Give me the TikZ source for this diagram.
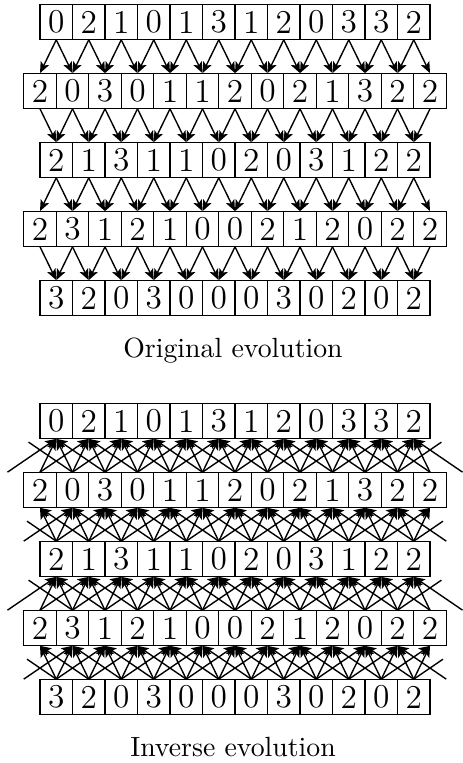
\documentclass[tikz,border=0pt]{standalone}
\usetikzlibrary{arrows.meta,calc}
\tikzset{
  cell/.style={draw=black, minimum width=11.7pt, minimum height=12.85pt, inner sep=0pt, outer sep=0pt, font=\large},
  arrow/.style={-{Stealth[length=4pt,width=3.3pt,inset=0.9pt]}, line width=0.5pt},
  plainline/.style={line width=0.5pt},
  caption/.style={anchor=base, font=\normalsize}
}
\begin{document}
\begin{tikzpicture}[x=0.36pt, y=-0.36pt]
\useasboundingbox (0,0) rectangle (462,763);

% the same five rows, once for each evolution
\foreach \b/\dy in {o/0, i/399} {
  \foreach \r/\x/\vals in {0/56.25/{0,2,1,0,1,3,1,2,0,3,3,2},
                           1/40/{2,0,3,0,1,1,2,0,2,1,3,2,2},
                           2/56.25/{2,1,3,1,1,0,2,0,3,1,2,2},
                           3/40/{2,3,1,2,1,0,0,2,1,2,0,2,2},
                           4/56.25/{3,2,0,3,0,0,0,3,0,2,0,2}} {
    \foreach \v [count=\j from 0] in \vals
      \node[cell] (\b\r-\j) at ({\x+32.5*\j}, {22+69*\r+\dy}) {\v};
  }
}

% original evolution
\foreach \r in {0,2} {
  \pgfmathtruncatemacro{\s}{\r+1}
  \foreach \j in {0,...,11} {
    \pgfmathtruncatemacro{\k}{\j+1}
    \draw[arrow] (o\r-\j.south) -- (o\s-\j.north);
    \draw[arrow] (o\r-\j.south) -- (o\s-\k.north);
  }
}
\foreach \r in {1,3} {
  \pgfmathtruncatemacro{\s}{\r+1}
  \foreach \j in {0,...,11} {
    \pgfmathtruncatemacro{\k}{\j+1}
    \draw[arrow] (o\r-\j.south) -- (o\s-\j.north);
    \draw[arrow] (o\r-\k.south) -- (o\s-\j.north);
  }
}

% inverse evolution, narrow row above a wide one
\foreach \r in {0,2} {
  \pgfmathtruncatemacro{\s}{\r+1}
  \foreach \j in {0,...,11} {
    \pgfmathtruncatemacro{\k}{\j+1}
    \draw[arrow] (i\s-\j.north) -- (i\r-\j.south);
    \draw[arrow] (i\s-\k.north) -- (i\r-\j.south);
  }
  \foreach \j in {1,...,11} {
    \pgfmathtruncatemacro{\k}{\j-1}
    \draw[arrow] (i\s-\k.north) -- (i\r-\j.south);
  }
  \foreach \j in {0,...,10} {
    \pgfmathtruncatemacro{\k}{\j+2}
    \draw[arrow] (i\s-\k.north) -- (i\r-\j.south);
  }
  \coordinate (pl) at ($(i\s-0.north)+(-32.5,0)$);
  \coordinate (pr) at ($(i\s-12.north)+(32.5,0)$);
  \coordinate (ql) at ($(i\r-0.south)+(-32.5,0)$);
  \coordinate (qr) at ($(i\r-11.south)+(32.5,0)$);
  \draw[arrow] (pl) -- (i\r-0.south);
  \draw[arrow] (pr) -- (i\r-11.south);
  \draw[plainline] (i\s-1.north) -- ($(i\s-1.north)!0.9!(ql)$);
  \draw[plainline] (i\s-11.north) -- ($(i\s-11.north)!0.9!(qr)$);
}

% inverse evolution, wide row above a narrow one
\foreach \r in {1,3} {
  \pgfmathtruncatemacro{\s}{\r+1}
  \foreach \j in {0,...,11} {
    \pgfmathtruncatemacro{\k}{\j+1}
    \draw[arrow] (i\s-\j.north) -- (i\r-\j.south);
    \draw[arrow] (i\s-\j.north) -- (i\r-\k.south);
  }
  \foreach \j in {1,...,11} {
    \pgfmathtruncatemacro{\k}{\j-1}
    \draw[arrow] (i\s-\j.north) -- (i\r-\k.south);
  }
  \foreach \j in {0,...,10} {
    \pgfmathtruncatemacro{\k}{\j+2}
    \draw[arrow] (i\s-\j.north) -- (i\r-\k.south);
  }
  \coordinate (pl) at ($(i\s-0.north)+(-32.5,0)$);
  \coordinate (pr) at ($(i\s-11.north)+(32.5,0)$);
  \coordinate (ql) at ($(i\r-0.south)+(-32.5,0)$);
  \coordinate (qr) at ($(i\r-12.south)+(32.5,0)$);
  \draw[arrow] (pl) -- (i\r-1.south);
  \draw[arrow] (pr) -- (i\r-11.south);
  \draw[plainline] (i\s-0.north) -- ($(i\s-0.north)!0.6!(ql)$);
  \draw[plainline] (i\s-11.north) -- ($(i\s-11.north)!0.6!(qr)$);
}

\node[caption] (origlabel) at (233,357.5) {Original evolution};
\node[caption] (invlabel) at (233,756.5) {Inverse evolution};
\end{tikzpicture}
\end{document}
